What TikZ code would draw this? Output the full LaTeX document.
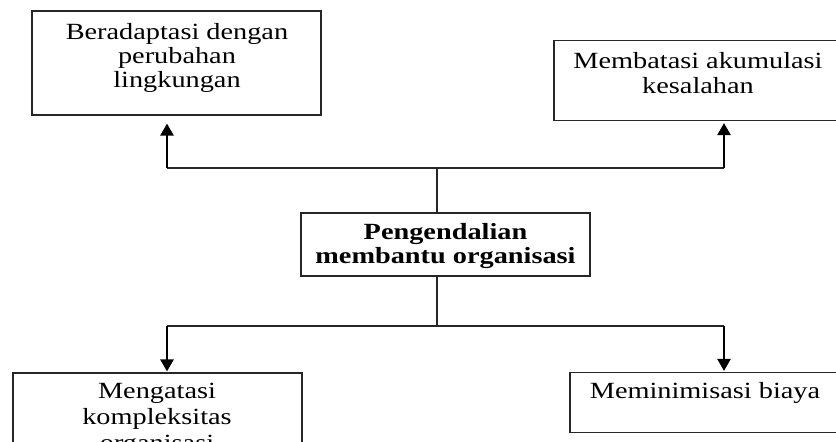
\documentclass[tikz,border=0pt]{standalone}
\usepackage{fontspec}
\setmainfont[FakeStretch=1.22]{Liberation Serif}
\usetikzlibrary{arrows.meta}
\begin{document}
\begin{tikzpicture}[x=1pt,y=-1pt,
  box/.style={draw=black!85,line width=1.1pt,rectangle,inner sep=0pt},
  txt/.style={anchor=base,inner sep=0pt,font=\fontsize{23.2}{25}\selectfont},
  btxt/.style={txt,font=\fontsize{23.2}{25}\selectfont\bfseries},
  link/.style={draw=black!85,line width=1.2pt},
  arr/.style={draw=black,line width=2.3pt,-{Triangle[length=12pt,width=13pt]}}]
\useasboundingbox (0,0) rectangle (836,442);
\clip (0,0) rectangle (836,442);
% boxes
\node[box,minimum width=289pt,minimum height=104pt] (b1) at (176.5,63) {};
\node[box,minimum width=300pt,minimum height=80pt] (b2) at (704,80.5) {};
\node[box,minimum width=289pt,minimum height=63pt] (c) at (445.5,244.5) {};
\node[box,minimum width=289pt,minimum height=110pt] (b3) at (157.5,428) {};
\node[box,minimum width=290pt,minimum height=60pt] (b4) at (715,402.5) {};
% texts
\node[txt] (t1a) at (177,39) {Beradaptasi dengan};
\node[txt] (t1b) at (177,63) {perubahan};
\node[txt] (t1c) at (177,87) {lingkungan};
\node[txt] (t2a) at (698,68) {Membatasi akumulasi};
\node[txt] (t2b) at (698,93) {kesalahan};
\node[btxt] (tca) at (445.5,239) {Pengendalian};
\node[btxt] (tcb) at (445.5,263) {membantu organisasi};
\node[txt] (t3a) at (157,398) {Mengatasi};
\node[txt] (t3b) at (157,424) {kompleksitas};
\node[txt] (t3c) at (157,450) {organisasi};
\node[txt] (t4a) at (705,398) {Meminimisasi biaya};
% junction coordinates
\coordinate (j1) at (437,168);
\coordinate (L1) at (167,168);
\coordinate (R1) at (724,168);
\coordinate (j2) at (437,326);
\coordinate (L2) at (167,326);
\coordinate (R2) at (724,326);
% connectors
\draw[link] (c.north -| j1) -- (j1);
\draw[link] (L1) -- (R1);
\draw[link] (c.south -| j2) -- (j2);
\draw[link] (L2) -- (R2);
\draw[arr,shorten >=8pt] (L1) -- (L1 |- b1.south);
\draw[arr,shorten >=2pt] (R1) -- (R1 |- b2.south);
\draw[arr,shorten >=1pt] (L2) -- (L2 |- b3.north);
\draw[arr,shorten >=1pt] (R2) -- (R2 |- b4.north);
\end{tikzpicture}
\end{document}
